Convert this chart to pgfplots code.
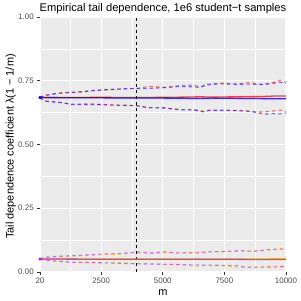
\documentclass[border=0pt]{standalone}
\usepackage{fontspec}
\setmainfont{Liberation Sans}
\usepackage{pgfplots}
\pgfplotsset{compat=1.18}
\definecolor{panelbg}{HTML}{EBEBEB}
\definecolor{ticktext}{HTML}{4D4D4D}
\definecolor{tickmark}{HTML}{333333}
\definecolor{rred}{HTML}{FF0000}
\definecolor{rblue}{HTML}{0000FF}
\definecolor{rorange}{HTML}{FFA500}
\definecolor{rpurple}{HTML}{A020F0}
\begin{document}
\begin{tikzpicture}
\path[use as bounding box] (0,0) rectangle (301bp,301bp);
\begin{axis}[
  at={(40bp,29bp)}, anchor=south west,
  scale only axis, width=246bp, height=255bp,
  xmin=20, xmax=10000, ymin=0, ymax=1,
  axis background/.style={fill=panelbg},
  axis line style={draw=none},
  scaled ticks=false,
  xtick={20,2500,5000,7500,10000},
  ytick={0,0.25,0.5,0.75,1},
  minor xtick={1260,3750,6250,8750},
  minor ytick={0.125,0.375,0.625,0.875},
  grid=both,
  major grid style={white, line width=1.07bp},
  minor grid style={white, line width=0.53bp},
  tick align=outside,
  major tick length=2.75bp, minor tick length=0pt,
  tick style={tickmark, line width=0.53bp},
  xtick pos=bottom, ytick pos=left,
  /pgf/number format/assume math mode=true,
  xticklabel style={font=\fontsize{8}{9}\selectfont, text=ticktext, /pgf/number format/1000 sep={}},
  yticklabel style={font=\fontsize{8}{9}\selectfont, text=ticktext, /pgf/number format/fixed, /pgf/number format/fixed zerofill, /pgf/number format/precision=2},
  xlabel={m}, ylabel={Tail dependence coefficient λ(1 − 1/m)},
  xlabel style={font=\fontsize{11}{12}\selectfont, at={(axis description cs:0.5,0)}, anchor=base, yshift=-23.5bp},
  ylabel style={font=\fontsize{11}{12}\selectfont, at={(axis description cs:0,0.5)}, anchor=base, yshift=26.5bp, xshift=-2bp},
  title={Empirical tail dependence, 1e6 student−t samples},
  title style={font=\fontsize{11.2}{12}\selectfont, at={(axis description cs:0.5,1)}, anchor=base, yshift=-0.5bp},
  clip=true,
]
% vertical line
\addplot[black, dashed, line width=0.6bp] coordinates {(3927,0) (3927,1)};
% top group dashed
\addplot[rred, opacity=0.55, line width=1.1bp, dash pattern=on 3.5bp off 3bp] coordinates {
(20,.684)(211,.693)(750,.702)(1290,.705)(1700,.706)(2100,.712)(2500,.713)(3050,.717)(3500,.718)(3930,.720)(4400,.727)(4520,.728)(5080,.724)(5700,.731)(6240,.733)(6510,.726)(6780,.736)(7320,.741)(8000,.737)(8540,.743)(8950,.736)(9350,.739)(9760,.752)(10000,.744)};
\addplot[rblue, opacity=0.55, line width=1.1bp, dash pattern=on 3.5bp off 3bp] coordinates {
(20,.684)(211,.692)(750,.700)(1290,.704)(1700,.707)(2100,.710)(2500,.714)(3050,.716)(3500,.719)(3930,.719)(4400,.720)(5080,.723)(5700,.728)(6240,.726)(6510,.724)(6780,.733)(7320,.738)(8000,.736)(8540,.737)(8950,.735)(9350,.738)(9760,.744)(10000,.740)};
\addplot[rred, opacity=0.55, line width=1.1bp, dash pattern=on 3.5bp off 3bp] coordinates {
(20,.684)(211,.671)(884,.665)(1290,.658)(2101,.659)(3050,.655)(3930,.653)(4400,.645)(5080,.644)(5700,.637)(6240,.637)(6650,.630)(6920,.635)(7600,.635)(8400,.632)(8810,.627)(9080,.628)(9490,.632)(9760,.635)(10000,.630)};
\addplot[rblue, opacity=0.55, line width=1.1bp, dash pattern=on 3.5bp off 3bp] coordinates {
(20,.684)(211,.670)(884,.664)(1290,.657)(2101,.657)(3050,.654)(3930,.652)(4400,.644)(5080,.643)(5700,.636)(6240,.636)(6650,.628)(6920,.634)(7600,.634)(8400,.631)(8810,.626)(9080,.619)(9490,.621)(9760,.620)(10000,.624)};
% top group solid
\addplot[rred, opacity=0.75, line width=1.3bp] coordinates {
(20,.684)(1000,.684)(2500,.685)(4000,.684)(5000,.685)(6000,.686)(6500,.687)(7000,.686)(8000,.687)(9000,.688)(9500,.690)(10000,.690)};
\addplot[rblue, opacity=0.8, line width=1.3bp] coordinates {
(20,.684)(2500,.683)(4000,.682)(5000,.682)(6000,.681)(6500,.680)(7000,.682)(8000,.681)(9000,.680)(10000,.679)};
\addplot[rblue, only marks, mark=*, mark size=1.3bp] coordinates {(20,.684)};
% bottom group dashed
\addplot[rorange, opacity=0.6, line width=1.1bp, dash pattern=on 3.5bp off 3bp] coordinates {
(20,.051)(211,.056)(750,.060)(1290,.062)(2000,.065)(2650,.068)(3330,.071)(3930,.075)(4520,.073)(5080,.076)(5620,.075)(6400,.076)(6920,.080)(7600,.080)(8140,.082)(8680,.082)(9350,.087)(9890,.092)(10000,.091)};
\addplot[rpurple, opacity=0.5, line width=1.1bp, dash pattern=on 3.5bp off 3bp] coordinates {
(20,.051)(211,.058)(750,.062)(1290,.064)(2000,.068)(2650,.071)(3330,.073)(3930,.079)(4520,.075)(5080,.079)(5620,.075)(6400,.075)(6920,.079)(7600,.081)(8140,.084)(8680,.081)(9350,.088)(9890,.090)(10000,.084)};
\addplot[rorange, opacity=0.6, line width=1.1bp, dash pattern=on 3.5bp off 3bp] coordinates {
(20,.051)(211,.047)(750,.043)(1290,.039)(2000,.037)(2650,.036)(3330,.035)(3930,.034)(5080,.031)(5700,.029)(6240,.023)(6780,.026)(7600,.024)(8000,.018)(8400,.018)(8950,.020)(9620,.021)(10000,.022)};
\addplot[rpurple, opacity=0.5, line width=1.1bp, dash pattern=on 3.5bp off 3bp] coordinates {
(20,.051)(211,.046)(750,.042)(1290,.038)(2000,.037)(2650,.036)(3330,.034)(3930,.032)(5080,.030)(5700,.029)(6780,.027)(7600,.026)(8000,.025)(8400,.019)(8950,.019)(9620,.020)(10000,.021)};
% bottom group solid
\addplot[rorange, opacity=0.8, line width=1.3bp] coordinates {
(20,.051)(2500,.051)(5000,.051)(7500,.051)(9000,.051)(10000,.052)};
\addplot[rpurple, opacity=0.75, line width=1.3bp] coordinates {
(20,.051)(2500,.050)(5000,.050)(7500,.050)(9000,.049)(10000,.049)};
\addplot[rpurple, only marks, mark=*, mark size=1.3bp] coordinates {(20,.051)};
\end{axis}
\end{tikzpicture}
\end{document}
